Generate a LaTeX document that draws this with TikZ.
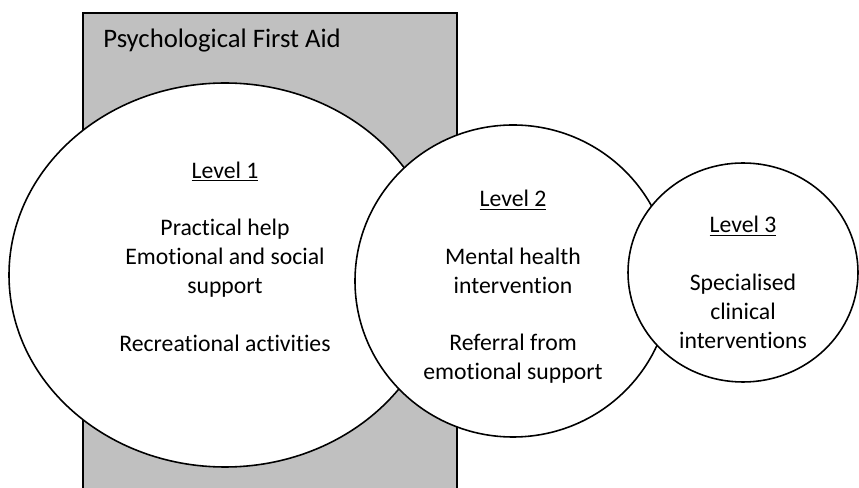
\documentclass[tikz,border=0pt]{standalone}
\usepackage{fontspec}
\setmainfont[Ligatures=NoCommon]{Carlito}
\usepackage{tikz}
\usetikzlibrary{shapes.geometric, positioning}
\definecolor{panelgray}{HTML}{C0C0C0}

\begin{document}
\begin{tikzpicture}[
            panel/.style={draw, line width=0.9pt, fill=panelgray, inner sep=0pt, anchor=north west},
            level/.style={ellipse, draw, line width=0.9pt, fill=white, inner sep=0pt},
            leveltext/.style={align=center, inner sep=0pt, font=\fontsize{13.5}{16.44}\selectfont},
            title/.style={inner sep=0pt, font=\fontsize{15.2}{18}\selectfont}
        ]
            \useasboundingbox (0,0) rectangle (17.18,9.76);

            % Grey panel, runs off the bottom of the page
            \node[panel, minimum width=7.48cm, minimum height=10cm] (pfa) at (1.64,9.52) {};
            \node[title, anchor=base west] (pfatitle) at (2.06,8.80) {Psychological First Aid};

            % Level ellipses
            \node[level, minimum width=8.64cm, minimum height=7.68cm] (lvl1) at (4.50,4.26) {};
            \node[level, minimum width=6.32cm, minimum height=6.24cm] (lvl2) at (10.26,4.14) {};
            \node[level, minimum width=4.60cm, minimum height=4.38cm] (lvl3) at (14.86,4.31) {};

            % Texts
            \node[leveltext, below=1.58cm of lvl1.north] (lvl1text) {\underline{Level 1}\\[16.44pt]
                Practical help\\ Emotional and social\\ support\\[16.44pt] Recreational activities};
            \node[leveltext, below=1.31cm of lvl2.north] (lvl2text) {\underline{Level 2}\\[16.44pt]
                Mental health\\ intervention\\[16.44pt] Referral from\\ emotional support};
            \node[leveltext, below=1.07cm of lvl3.north] (lvl3text) {\underline{Level 3}\\[16.44pt]
                Specialised\\ clinical\\ interventions};
        \end{tikzpicture}
\end{document}
